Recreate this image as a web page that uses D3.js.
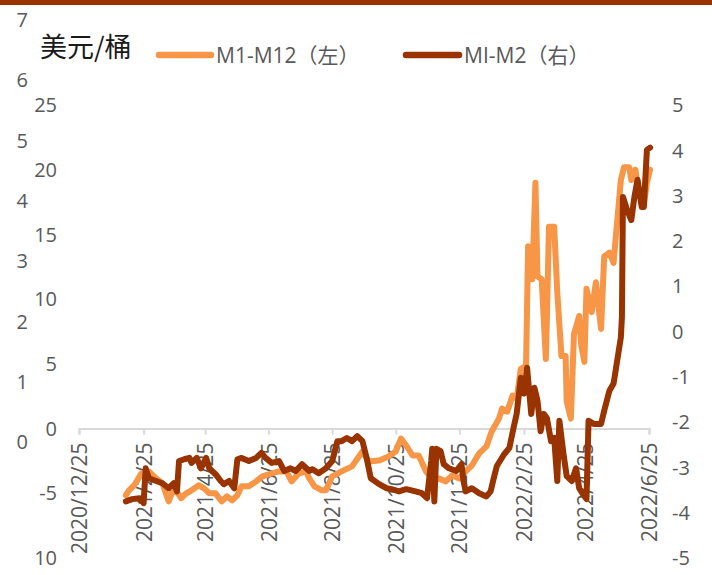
<!DOCTYPE html>
<html>
<head>
<meta charset="utf-8">
<script src="https://cdn.jsdelivr.net/npm/d3@7"></script>
<style>
  html, body { margin: 0; padding: 0; background: #fff; }
  svg { display: block; }
  text { font-family: "Open Sans", "Noto Sans CJK SC", sans-serif; }
</style>
</head>
<body>
<svg id="chart" width="712" height="575"></svg>
<script>
// ---------- DATA ----------
const seriesNames = ["M1-M12（左）", "MI-M2（右）"];
const unitLabel = "美元/桶";

const xTickLabels = ["2020/12/25","2021/2/25","2021/4/25","2021/6/25","2021/8/25",
  "2021/10/25","2021/12/25","2022/2/25","2022/4/25","2022/6/25"];

const leftTicks = [25, 20, 15, 10, 5, 0, -5];
const leftBottomLabel = "10";
const ghostTicks = [7, 6, 5, 4, 3, 2, 1, 0];
const rightTicks = [5, 4, 3, 2, 1, 0, -1, -2, -3, -4, -5];

const m1m12Dates = ["2021-02-08","2021-02-11","2021-02-16","2021-02-23","2021-03-02","2021-03-09","2021-03-15","2021-03-21","2021-03-24","2021-03-28",
"2021-04-02","2021-04-07","2021-04-12","2021-04-19","2021-04-24","2021-04-29","2021-05-05","2021-05-11","2021-05-16","2021-05-21",
"2021-05-26","2021-05-30","2021-06-06","2021-06-13","2021-06-19","2021-06-28","2021-07-05","2021-07-12","2021-07-17","2021-07-24",
"2021-07-31","2021-08-03","2021-08-08","2021-08-15","2021-08-19","2021-08-25","2021-09-03","2021-09-13","2021-09-23","2021-09-29",
"2021-10-09","2021-10-18","2021-10-25","2021-10-30","2021-11-04","2021-11-10","2021-11-16","2021-11-23","2021-11-29","2021-12-05",
"2021-12-12","2021-12-18","2021-12-25","2021-12-31","2022-01-06","2022-01-13","2022-01-20","2022-01-25","2022-02-01","2022-02-04",
"2022-02-09","2022-02-14","2022-02-18","2022-02-22","2022-02-27","2022-03-01","2022-03-04","2022-03-05","2022-03-08","2022-03-10",
"2022-03-14","2022-03-18","2022-03-19","2022-03-21","2022-03-26","2022-03-29","2022-04-02","2022-04-06","2022-04-07","2022-04-11",
"2022-04-14","2022-04-19","2022-04-21","2022-04-24","2022-04-26","2022-05-01","2022-05-05","2022-05-10","2022-05-13","2022-05-18",
"2022-05-22","2022-05-25","2022-05-29","2022-06-01","2022-06-06","2022-06-08","2022-06-12","2022-06-15","2022-06-20","2022-06-23","2022-06-26"];
const m1m12Values = [-5.15,-4.77,-4.38,-3.46,-3.31,-3.85,-4.23,-5.62,-5.0,-4.77,
-5.38,-5.0,-4.77,-4.38,-4.62,-5.0,-5.0,-5.62,-5.23,-5.54,
-5.15,-4.46,-4.46,-4.08,-3.69,-3.46,-3.31,-3.31,-4.08,-3.46,
-3.31,-3.85,-4.46,-4.77,-4.77,-3.69,-3.31,-2.92,-1.77,-2.54,
-2.46,-2.15,-1.77,-0.77,-1.31,-2.08,-2.08,-3.31,-3.85,-3.85,
-4.08,-3.62,-3.85,-3.31,-2.85,-1.92,-1.38,-0.23,0.77,1.54,
1.31,2.54,2.31,4.62,4.85,14.08,13.85,11.54,19.0,11.77,
11.54,5.38,8.46,15.6,15.6,10.5,5.6,5.6,2.1,0.77,
7.3,8.7,6.4,5.15,10.8,9.0,11.3,7.7,13.3,13.6,
12.8,15.6,19.2,20.2,20.2,19.2,20.0,18.2,17.2,19.0,20.0];

const m1m2Dates = ["2021-02-08","2021-02-14","2021-02-21","2021-02-25","2021-02-27","2021-03-02","2021-03-09","2021-03-15","2021-03-21","2021-03-26",
"2021-03-29","2021-03-31","2021-04-05","2021-04-10","2021-04-12","2021-04-17","2021-04-21","2021-04-26","2021-04-29","2021-05-05",
"2021-05-10","2021-05-13","2021-05-18","2021-05-23","2021-05-26","2021-05-30","2021-06-06","2021-06-13","2021-06-18","2021-06-22",
"2021-06-28","2021-07-05","2021-07-10","2021-07-16","2021-07-21","2021-07-27","2021-08-03","2021-08-06","2021-08-12","2021-08-19",
"2021-08-25","2021-08-30","2021-09-03","2021-09-08","2021-09-13","2021-09-18","2021-09-23","2021-09-27","2021-10-01","2021-10-09",
"2021-10-16","2021-10-21","2021-10-28","2021-11-04","2021-11-13","2021-11-19","2021-11-24","2021-11-28","2021-11-29","2021-12-01",
"2021-12-03","2021-12-07","2021-12-10","2021-12-15","2021-12-22","2021-12-27","2021-12-29","2021-12-31","2022-01-06","2022-01-13",
"2022-01-20","2022-01-24","2022-01-27","2022-01-30","2022-02-06","2022-02-11","2022-02-15","2022-02-18","2022-02-22","2022-02-25",
"2022-02-28","2022-03-04","2022-03-07","2022-03-10","2022-03-13","2022-03-16","2022-03-19","2022-03-23","2022-03-26","2022-03-29",
"2022-03-31","2022-04-04","2022-04-07","2022-04-12","2022-04-16","2022-04-19","2022-04-22","2022-04-26","2022-04-28","2022-05-03",
"2022-05-10","2022-05-13","2022-05-18","2022-05-22","2022-05-25","2022-05-29","2022-05-30","2022-05-31","2022-06-04","2022-06-08",
"2022-06-11","2022-06-14","2022-06-18","2022-06-20","2022-06-23","2022-06-26"];
const m1m2Values = [-3.75,-3.70,-3.68,-3.79,-3.02,-3.24,-3.30,-3.35,-3.46,-3.35,
-3.53,-2.86,-2.82,-2.79,-2.90,-2.79,-3.02,-2.79,-3.02,-3.15,
-3.30,-3.37,-3.30,-3.46,-2.82,-2.79,-2.86,-2.79,-2.68,-2.79,
-2.90,-2.86,-3.08,-3.02,-3.08,-2.93,-3.08,-3.04,-3.13,-3.02,
-2.86,-2.42,-2.42,-2.35,-2.42,-2.31,-2.42,-2.79,-3.24,-3.37,
-3.46,-3.48,-3.53,-3.48,-3.53,-3.57,-3.68,-2.86,-2.59,-3.75,
-2.59,-2.64,-2.93,-3.02,-3.08,-2.93,-3.30,-3.53,-3.46,-3.57,
-3.64,-3.53,-3.24,-2.97,-2.71,-2.57,-2.13,-1.82,-1.02,-1.37,
-0.80,-1.82,-1.24,-1.53,-2.20,-1.82,-1.91,-2.42,-2.35,-3.30,
-1.97,-2.71,-3.19,-3.30,-3.02,-3.46,-3.57,-3.70,-1.97,-2.04,
-2.04,-1.75,-1.31,-1.15,-0.71,-0.13,0.31,2.97,2.68,2.46,
2.97,3.35,2.75,2.75,4.01,4.06];

// ---------- CHART ----------
const parse = d3.timeParse("%Y-%m-%d");
const tickParse = d3.timeParse("%Y/%m/%d");
const fmt = d3.timeFormat("%Y/%-m/%-d");

const COL_ORANGE = "#F79646";
const COL_DARK = "#993300";
const COL_TEXT = "#595959";

const svg = d3.select("#chart");

// top bar
svg.append("rect").attr("x", 0).attr("y", 0).attr("width", 712).attr("height", 5).attr("fill", COL_DARK);

const x = d3.scaleTime()
  .domain([tickParse(xTickLabels[0]), tickParse(xTickLabels[xTickLabels.length - 1])])
  .range([79, 649]);
const yL = d3.scaleLinear().domain([-10, 25]).range([558, 105]);
const yR = d3.scaleLinear().domain([-5, 5]).range([558, 105]);
const yGhost = d3.scaleLinear().domain([0, 7]).range([442, 20]);

// x axis
const xAxis = d3.axisBottom(x)
  .tickValues(xTickLabels.map(tickParse))
  .tickSize(6)
  .tickFormat(fmt);
const gx = svg.append("g").attr("transform", `translate(0,${yL(0)})`).call(xAxis);
gx.select(".domain").attr("stroke", "#d9d9d9").attr("stroke-width", 2);
gx.selectAll(".tick line").attr("stroke", "#d9d9d9").attr("stroke-width", 2);
gx.selectAll(".tick text")
  .attr("fill", COL_TEXT)
  .style("font-size", "21px")
  .style("font-family", "'Open Sans', sans-serif")
  .attr("transform", "rotate(-90)")
  .attr("x", -14)
  .attr("y", 0)
  .attr("dy", "0.36em")
  .attr("text-anchor", "end");

// left axis labels
svg.append("g").selectAll("text").data(leftTicks).join("text")
  .attr("x", 57).attr("y", d => yL(d)).attr("dy", "0.36em")
  .attr("text-anchor", "end").attr("fill", COL_TEXT).style("font-size", "20px")
  .text(d => d);
svg.append("text").attr("x", 57).attr("y", yL(-10)).attr("dy", "0.36em")
  .attr("text-anchor", "end").attr("fill", COL_TEXT).style("font-size", "20px")
  .text(leftBottomLabel);

// ghost left labels
svg.append("g").selectAll("text").data(ghostTicks).join("text")
  .attr("x", 28).attr("y", d => yGhost(d)).attr("dy", "0.36em")
  .attr("text-anchor", "end").attr("fill", COL_TEXT).style("font-size", "20px")
  .text(d => d);

// right axis labels
svg.append("g").selectAll("text").data(rightTicks).join("text")
  .attr("x", 672).attr("y", d => yR(d)).attr("dy", "0.36em")
  .attr("text-anchor", "start").attr("fill", COL_TEXT).style("font-size", "20px")
  .text(d => d);

// lines
const orangeData = m1m12Dates.map((d, i) => ({ date: parse(d), v: m1m12Values[i] }));
const darkData = m1m2Dates.map((d, i) => ({ date: parse(d), v: m1m2Values[i] }));

svg.append("path").datum(orangeData)
  .attr("fill", "none").attr("stroke", COL_ORANGE).attr("stroke-width", 6)
  .attr("stroke-linejoin", "round").attr("stroke-linecap", "round")
  .attr("d", d3.line().x(d => x(d.date)).y(d => yL(d.v)));

svg.append("path").datum(darkData)
  .attr("fill", "none").attr("stroke", COL_DARK).attr("stroke-width", 6)
  .attr("stroke-linejoin", "round").attr("stroke-linecap", "round")
  .attr("d", d3.line().x(d => x(d.date)).y(d => yR(d.v)));

// unit label
svg.append("text").attr("x", 40).attr("y", 47).attr("dy", "0.36em")
  .attr("fill", "#1a1a1a").style("font-size", "27px")
  .style("font-family", "'Noto Sans CJK SC', sans-serif")
  .text(unitLabel);

// legend
const legend = [
  { name: seriesNames[0], color: COL_ORANGE, x1: 159, x2: 211, tx: 216 },
  { name: seriesNames[1], color: COL_DARK, x1: 406, x2: 459, tx: 464 }
];
const lg = svg.append("g");
legend.forEach(l => {
  lg.append("line").attr("x1", l.x1).attr("x2", l.x2).attr("y1", 55).attr("y2", 55)
    .attr("stroke", l.color).attr("stroke-width", 6.5).attr("stroke-linecap", "round");
  lg.append("text").attr("x", l.tx).attr("y", 55).attr("dy", "0.36em")
    .attr("fill", COL_TEXT).style("font-size", "21px").text(l.name);
});
</script>
</body>
</html>
